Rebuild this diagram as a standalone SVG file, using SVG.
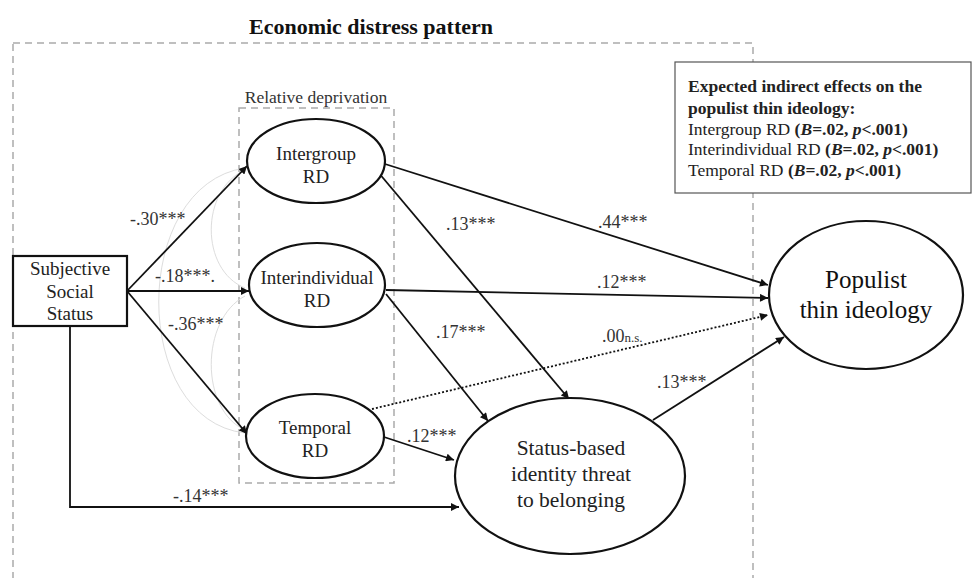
<svg xmlns="http://www.w3.org/2000/svg" width="979" height="578" viewBox="0 0 979 578">
<style>
text{font-family:"Liberation Serif","Times New Roman",serif;}
.node{fill:#fff;stroke:#111;stroke-width:2.2;}
.nt{font-size:19px;fill:#222;text-anchor:middle;}
.lab{font-size:18px;fill:#333;}
.edge{stroke:#111;stroke-width:1.8;fill:none;marker-end:url(#ah);}
.cov{stroke:#ddd;stroke-width:1;fill:none;}
.dash{stroke:#aaa;stroke-width:1.5;stroke-dasharray:7,5;fill:none;}
.bx{font-size:17.5px;fill:#222;}
</style>
<defs>
<marker id="ah" viewBox="0 0 10 10" refX="10" refY="5" markerWidth="9" markerHeight="8" markerUnits="userSpaceOnUse" orient="auto">
<path d="M0,0 L10,5 L0,10 z" fill="#111"/>
</marker>
</defs>
<rect width="979" height="578" fill="#fff"/>

<g id="frames">
<text x="371" y="34" font-size="22" font-weight="bold" text-anchor="middle" fill="#111">Economic distress pattern</text>
<rect class="dash" x="13" y="43" width="740" height="560"/>
<text x="316" y="103" font-size="17.5" text-anchor="middle" fill="#333">Relative deprivation</text>
<rect class="dash" x="239" y="108" width="155" height="375"/>
</g>

<g id="covariances">
<path class="cov" d="M245,168 C130,185 130,420 245,433"/>
<path class="cov" d="M245,170 C200,190 200,270 245,288"/>
<path class="cov" d="M245,296 C200,320 200,410 245,430"/>
</g>

<g id="connectors">
<line class="edge" x1="127" y1="291" x2="247" y2="166"/>
<line class="edge" x1="127" y1="291" x2="249" y2="291"/>
<line class="edge" x1="127" y1="291" x2="247" y2="434"/>
<polyline class="edge" points="70,326 70,507 459,507"/>
<line class="edge" x1="385" y1="164" x2="768" y2="285"/>
<line class="edge" x1="378" y1="172" x2="569" y2="399"/>
<line class="edge" x1="386" y1="290" x2="768" y2="298"/>
<line class="edge" x1="386" y1="294" x2="488" y2="421"/>
<line x1="372" y1="409" x2="768" y2="315" stroke="#111" stroke-width="1.8" stroke-dasharray="2,2" marker-end="url(#ah)"/>
<line class="edge" x1="384" y1="437" x2="454" y2="460"/>
<line class="edge" x1="653" y1="420" x2="784" y2="337"/>
<text class="lab" x="130" y="225">-.30***</text>
<text class="lab" x="155" y="282">-.18***.</text>
<text class="lab" x="168" y="330">-.36***</text>
<text class="lab" x="173" y="502">-.14***</text>
<text class="lab" x="598" y="228">.44***</text>
<text class="lab" x="446" y="230">.13***</text>
<text class="lab" x="597" y="288">.12***</text>
<text class="lab" x="436" y="338">.17***</text>
<text class="lab" x="602" y="342">.00<tspan font-size="13">n.s.</tspan></text>
<text class="lab" x="407" y="442">.12***</text>
<text class="lab" x="657" y="388">.13***</text>
</g>

<g id="sss">
<rect class="node" x="13" y="256" width="114" height="70"/>
<text class="nt" x="70" y="275">Subjective</text>
<text class="nt" x="70" y="298">Social</text>
<text class="nt" x="70" y="320">Status</text>
</g>

<g id="intergroup">
<ellipse class="node" cx="316" cy="161" rx="69" ry="42"/>
<text class="nt" x="316" y="160">Intergroup</text>
<text class="nt" x="316" y="183">RD</text>
</g>

<g id="interindividual">
<ellipse class="node" cx="317" cy="285" rx="68" ry="42"/>
<text class="nt" x="317" y="284">Interindividual</text>
<text class="nt" x="317" y="307">RD</text>
</g>

<g id="temporal">
<ellipse class="node" cx="315" cy="436" rx="69" ry="42"/>
<text class="nt" x="315" y="434">Temporal</text>
<text class="nt" x="315" y="457">RD</text>
</g>

<g id="populist">
<ellipse class="node" cx="866" cy="295" rx="97" ry="74"/>
<text x="866" y="288" font-size="25" text-anchor="middle" fill="#111">Populist</text>
<text x="866" y="318" font-size="25" text-anchor="middle" fill="#111">thin ideology</text>
</g>

<g id="status">
<ellipse class="node" cx="570" cy="476" rx="115" ry="78"/>
<text x="571" y="455" font-size="21.5" text-anchor="middle" fill="#222">Status-based</text>
<text x="571" y="481" font-size="21.5" text-anchor="middle" fill="#222">identity threat</text>
<text x="571" y="507" font-size="21.5" text-anchor="middle" fill="#222">to belonging</text>
</g>

<g id="effects-box">
<rect x="675" y="62" width="296" height="131" fill="#fff" stroke="#555" stroke-width="1.2"/>
<text class="bx" x="688" y="92" font-weight="bold">Expected indirect effects on the</text>
<text class="bx" x="688" y="114" font-weight="bold">populist thin ideology:</text>
<text class="bx" x="688" y="135">Intergroup RD <tspan font-weight="bold">(<tspan font-style="italic">B</tspan>=.02, <tspan font-style="italic">p</tspan>&lt;.001)</tspan></text>
<text class="bx" x="688" y="155">Interindividual RD <tspan font-weight="bold">(<tspan font-style="italic">B</tspan>=.02, <tspan font-style="italic">p</tspan>&lt;.001)</tspan></text>
<text class="bx" x="688" y="176">Temporal RD <tspan font-weight="bold">(<tspan font-style="italic">B</tspan>=.02, <tspan font-style="italic">p</tspan>&lt;.001)</tspan></text>
</g>
</svg>
